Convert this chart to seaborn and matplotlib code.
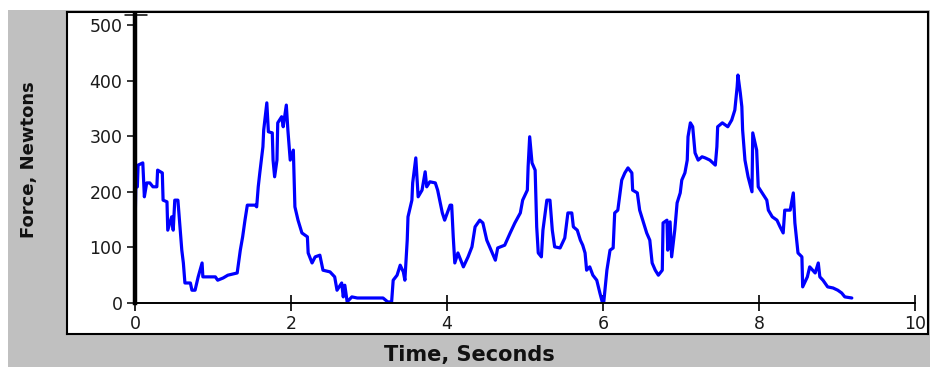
import matplotlib
matplotlib.use("Agg")
import matplotlib.pyplot as plt
import seaborn as sns
import pandas as pd

# force trace (seconds, newtons)
time_s = [0.00, 0.01, 0.03, 0.04, 0.10, 0.12, 0.15, 0.19, 0.23, 0.28, 0.29, 0.35, 0.36, 0.41,
          0.42, 0.47, 0.49, 0.51, 0.55, 0.58, 0.60, 0.62, 0.64, 0.71, 0.73, 0.77, 0.81, 0.86,
          0.87, 0.96, 1.03, 1.06, 1.13, 1.19, 1.31, 1.35, 1.38, 1.41, 1.44, 1.54, 1.56, 1.58,
          1.60, 1.64, 1.65, 1.69, 1.71, 1.76, 1.77, 1.79, 1.82, 1.83, 1.88, 1.90, 1.94, 1.96,
          1.99, 2.03, 2.05, 2.09, 2.14, 2.21, 2.22, 2.27, 2.31, 2.37, 2.41, 2.50, 2.56, 2.59,
          2.65, 2.67, 2.69, 2.72, 2.78, 2.85, 3.18, 3.24, 3.29, 3.31, 3.36, 3.40, 3.44, 3.46,
          3.49, 3.50, 3.55, 3.56, 3.60, 3.63, 3.68, 3.72, 3.74, 3.78, 3.85, 3.88, 3.94, 3.97,
          4.04, 4.06, 4.08, 4.10, 4.14, 4.21, 4.27, 4.32, 4.36, 4.42, 4.46, 4.51, 4.58, 4.62,
          4.65, 4.74, 4.81, 4.87, 4.94, 4.97, 5.03, 5.04, 5.06, 5.09, 5.13, 5.15, 5.17, 5.21,
          5.23, 5.28, 5.32, 5.35, 5.38, 5.45, 5.51, 5.55, 5.60, 5.62, 5.67, 5.71, 5.74, 5.77,
          5.79, 5.83, 5.87, 5.92, 5.96, 5.99, 6.01, 6.05, 6.09, 6.13, 6.15, 6.19, 6.24, 6.28,
          6.32, 6.37, 6.38, 6.44, 6.47, 6.51, 6.56, 6.60, 6.63, 6.67, 6.71, 6.76, 6.77, 6.82,
          6.83, 6.86, 6.88, 6.92, 6.95, 6.99, 7.01, 7.05, 7.08, 7.09, 7.12, 7.15, 7.18, 7.22,
          7.27, 7.31, 7.37, 7.44, 7.46, 7.47, 7.53, 7.60, 7.65, 7.69, 7.72, 7.73, 7.76, 7.78,
          7.79, 7.82, 7.86, 7.91, 7.92, 7.97, 7.99, 8.04, 8.10, 8.12, 8.17, 8.23, 8.27, 8.31,
          8.33, 8.40, 8.44, 8.46, 8.50, 8.55, 8.56, 8.62, 8.65, 8.72, 8.76, 8.78, 8.82, 8.88,
          8.95, 9.01, 9.06, 9.10, 9.19]
force_n = [130, 209, 209, 248, 252, 191, 216, 216, 209, 209, 239, 234, 185, 182,
           131, 155, 131, 185, 185, 131, 95, 72, 36, 36, 23, 23, 47, 72,
           47, 47, 47, 41, 45, 50, 54, 95, 119, 149, 176, 176, 173, 209,
           234, 281, 311, 360, 308, 306, 257, 227, 257, 324, 335, 317, 356, 311,
           257, 275, 173, 149, 126, 119, 90, 72, 83, 86, 59, 56, 47, 23,
           36, 11, 32, 2, 11, 9, 9, 2, 2, 41, 50, 68, 56, 41,
           113, 155, 185, 216, 261, 191, 203, 236, 209, 218, 216, 203, 162, 149,
           176, 176, 119, 72, 90, 65, 83, 101, 137, 149, 144, 113, 90, 77,
           99, 104, 126, 144, 162, 185, 203, 245, 299, 252, 239, 137, 90, 83,
           131, 185, 185, 131, 101, 99, 117, 162, 162, 137, 131, 113, 104, 90,
           59, 65, 50, 41, 18, 2, 2, 59, 95, 99, 162, 167, 221, 234,
           243, 234, 203, 198, 167, 149, 126, 113, 72, 59, 50, 59, 144, 149,
           95, 146, 83, 131, 180, 198, 221, 234, 257, 299, 324, 317, 270, 257,
           263, 261, 257, 248, 281, 317, 324, 317, 329, 347, 389, 410, 378, 353,
           311, 257, 227, 200, 306, 275, 209, 198, 185, 167, 155, 149, 137, 126,
           167, 167, 198, 144, 90, 83, 29, 47, 65, 54, 72, 47, 41, 29,
           27, 23, 18, 11, 9]

x_ticks = [0, 2, 4, 6, 8, 10]
y_ticks = [0, 100, 200, 300, 400, 500]

df = pd.DataFrame({"t": time_s, "f": force_n})

sns.set_style("white")
plt.rcParams["font.family"] = ["DejaVu Sans"]

W, H = 930, 367
fig = plt.figure(figsize=(W / 100, H / 100), dpi=100)
fig.patch.set_facecolor("white")

# grey window panel (drawn as a background axes)
panel = fig.add_axes([8 / W, 0, (W - 8) / W, (H - 10) / H], zorder=-2)
panel.set_facecolor("#c0c0c0")
panel.set_xticks([])
panel.set_yticks([])
for sp in panel.spines.values():
    sp.set_visible(False)

# white plot box with black frame
frame = fig.add_axes([67 / W, (H - 334) / H, (928 - 67) / W, (334 - 12) / H], zorder=-1)
frame.set_facecolor("white")
frame.set_xticks([])
frame.set_yticks([])
for sp in frame.spines.values():
    sp.set_color("black")
    sp.set_linewidth(1.5)

# data axes
ax = fig.add_axes([135 / W, (H - 303) / H, (915 - 135) / W, (303 - 15) / H])
ax.patch.set_alpha(0)
sns.lineplot(data=df, x="t", y="f", ax=ax, color="#0000ff", linewidth=2.3,
             estimator=None, sort=False)

ax.set_xlim(0, 10)
ax.set_ylim(0, 518)
ax.set_xticks(x_ticks)
ax.set_yticks(y_ticks)
ax.set_xlabel("")
ax.set_ylabel("")
for side in ["top", "right"]:
    ax.spines[side].set_visible(False)
ax.spines["left"].set_linewidth(3.2)
ax.spines["left"].set_color("black")
ax.spines["bottom"].set_linewidth(1.4)
ax.spines["bottom"].set_color("black")
ax.spines["left"].set_zorder(5)

ax.tick_params(axis="y", direction="out", length=6, width=1.1, pad=3,
               labelsize=12.5, labelcolor="#1a1a1a", color="black", left=True)
ax.tick_params(axis="x", direction="inout", length=11, width=1.2, pad=3,
               labelsize=12.5, labelcolor="#1a1a1a", color="black", bottom=True)

# cap at the top of the y axis
ax.plot([-10 / 780, 12 / 780], [1, 1], transform=ax.transAxes, color="black",
        linewidth=1.1, clip_on=False)

fig.text(469 / W, 1 - 355 / H, "Time, Seconds", ha="center", va="center",
         fontsize=15, fontweight="bold", color="#111111")
fig.text(29 / W, 1 - 160 / H, "Force, Newtons", ha="center", va="center",
         rotation=90, fontsize=13, fontweight="bold", color="#111111")

fig.savefig("out.png", dpi=100)
